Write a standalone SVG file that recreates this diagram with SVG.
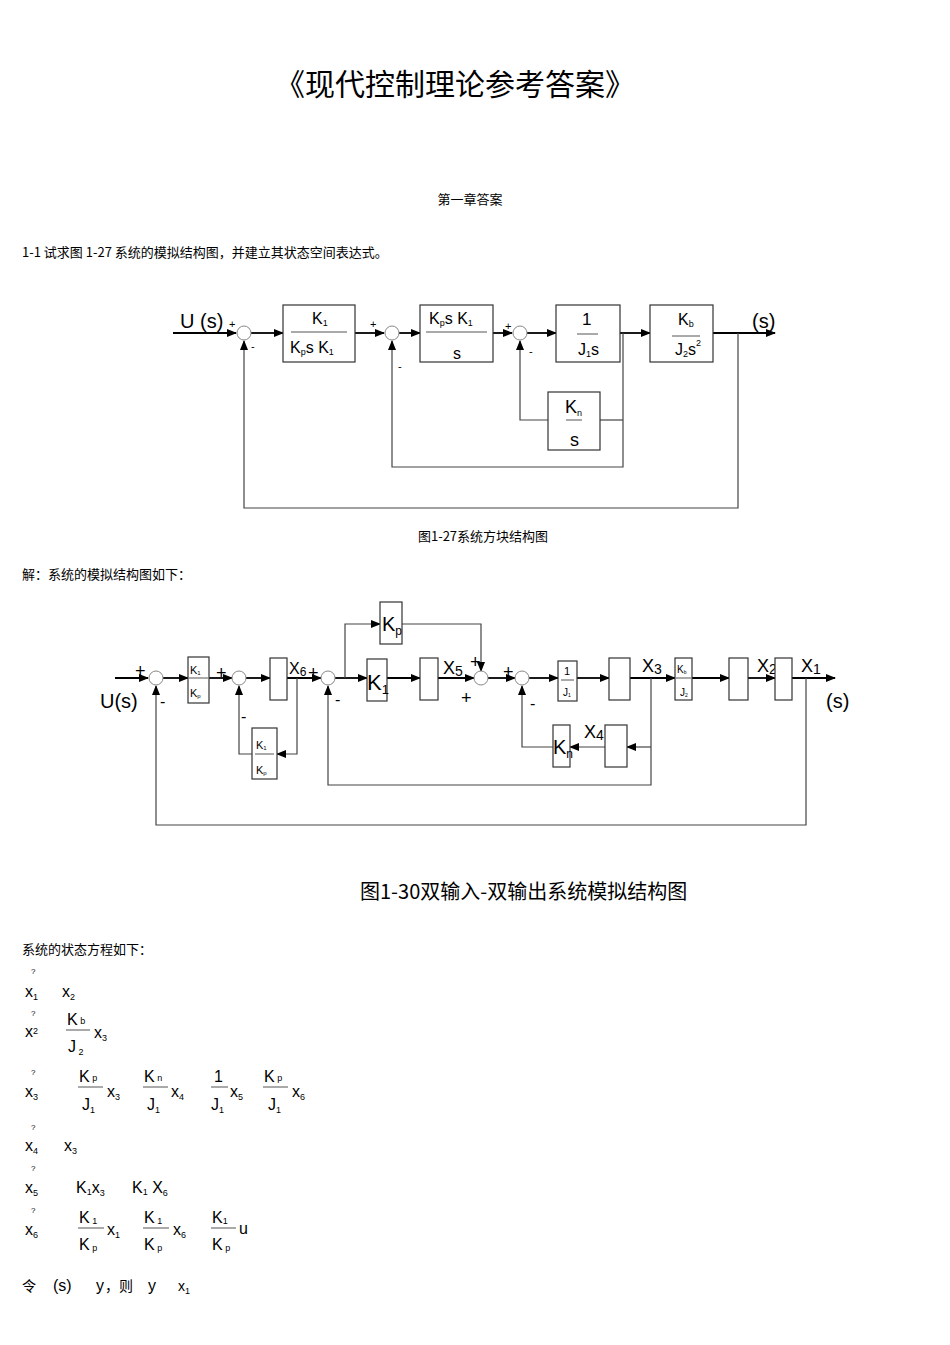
<svg xmlns="http://www.w3.org/2000/svg" width="950" height="1345" viewBox="0 0 950 1345">
<defs>
<marker id="a" markerWidth="10" markerHeight="8" refX="9" refY="4" orient="auto" markerUnits="userSpaceOnUse"><path d="M0,0 L10,4 L0,8 Z" fill="#000"/></marker>
<style>
text{font-family:"Liberation Sans","Noto Sans CJK SC",sans-serif;fill:#000}
.cjk{font-family:"Noto Sans CJK SC","Liberation Sans",sans-serif}
.b{fill:#fff;stroke:#333;stroke-width:1.2}
.s{fill:#fff;stroke:#888;stroke-width:1}
.l{fill:none;stroke:#000;stroke-width:1.8}
.g{fill:none;stroke:#444;stroke-width:1.2}
.f{stroke:#555;stroke-width:1}
.sub{font-size:9px}
</style>
</defs>
<rect width="950" height="1345" fill="#fff"/>
<text class="cjk" x="455" y="95" font-size="30" text-anchor="middle">《现代控制理论参考答案》</text>
<text class="cjk" x="470" y="204" font-size="13" text-anchor="middle">第一章答案</text>
<text class="cjk" x="22" y="257" font-size="13">1-1  试求图  1-27 系统的模拟结构图，并建立其状态空间表达式。</text>

<!-- Diagram 1 -->
<g id="connectors1">
<path class="l" d="M173,333 H236" marker-end="url(#a)"/>
<path class="l" d="M251,333 H283" marker-end="url(#a)"/>
<path class="l" d="M355,333 H384" marker-end="url(#a)"/>
<path class="l" d="M399,333 H420" marker-end="url(#a)"/>
<path class="l" d="M493,333 H512" marker-end="url(#a)"/>
<path class="l" d="M527,333 H556" marker-end="url(#a)"/>
<path class="l" d="M620,333 H650" marker-end="url(#a)"/>
<path class="l" d="M713,333 H775" marker-end="url(#a)"/>
<path class="g" d="M623,333 V467 H392 V341" marker-end="url(#a)"/>
<path class="g" d="M623,420 H600"/>
<path class="g" d="M548,420 H520 V341" marker-end="url(#a)"/>
<path class="g" d="M738,333 V508 H244 V341" marker-end="url(#a)"/>
</g>
<g id="sum1a"><circle class="s" cx="244" cy="333" r="7"/><text x="229" y="328" font-size="11">+</text><text x="251" y="350" font-size="11">-</text></g>
<g id="sum2a"><circle class="s" cx="392" cy="333" r="7"/><text x="370" y="328" font-size="11">+</text><text x="398" y="370" font-size="11">-</text></g>
<g id="sum3a"><circle class="s" cx="520" cy="333" r="7"/><text x="505" y="330" font-size="11">+</text><text x="529" y="355" font-size="11">-</text></g>
<text x="180" y="328" font-size="20">U (s)</text>
<text x="752" y="328" font-size="20">(s)</text>
<g id="blk1"><rect class="b" x="283" y="305" width="72" height="57"/><line class="f" x1="291" y1="332" x2="347" y2="332"/><text x="312" y="324" font-size="16">K<tspan class="sub" dy="2">1</tspan></text><text x="290" y="353" font-size="16">K<tspan class="sub" dy="2">p</tspan><tspan dy="-2">s  K</tspan><tspan class="sub" dy="2">1</tspan></text></g>
<g id="blk2"><rect class="b" x="420" y="305" width="73" height="57"/><line class="f" x1="426" y1="332" x2="487" y2="332"/><text x="429" y="324" font-size="16">K<tspan class="sub" dy="2">p</tspan><tspan dy="-2">s  K</tspan><tspan class="sub" dy="2">1</tspan></text><text x="453" y="359" font-size="16">s</text></g>
<g id="blk3"><rect class="b" x="556" y="305" width="64" height="57"/><line class="f" x1="577" y1="334" x2="598" y2="334"/><text x="582" y="325" font-size="17">1</text><text x="578" y="355" font-size="16">J<tspan class="sub" dy="2">1</tspan><tspan dy="-2">s</tspan></text></g>
<g id="blk4"><rect class="b" x="650" y="305" width="63" height="57"/><line class="f" x1="672" y1="336" x2="700" y2="336"/><text x="678" y="325" font-size="16">K<tspan class="sub" dy="2">b</tspan></text><text x="675" y="355" font-size="16">J<tspan class="sub" dy="2">2</tspan><tspan dy="-2">s</tspan><tspan class="sub" dy="-9">2</tspan></text></g>
<g id="blk5"><rect class="b" x="548" y="392" width="52" height="58"/><line class="f" x1="566" y1="420" x2="582" y2="420"/><text x="565" y="413" font-size="18">K<tspan class="sub" dy="3">n</tspan></text><text x="570" y="446" font-size="18">s</text></g>
<text class="cjk" x="483" y="541" font-size="13" text-anchor="middle">图1-27系统方块结构图</text>

<text class="cjk" x="22" y="579" font-size="13">解：系统的模拟结构图如下：</text>

<!-- Diagram 2 -->
<g id="connectors2">
<path class="l" d="M115,678 H148" marker-end="url(#a)"/>
<path class="l" d="M163,678 H188" marker-end="url(#a)"/>
<path class="l" d="M209,678 H232" marker-end="url(#a)"/>
<path class="l" d="M246,678 H270" marker-end="url(#a)"/>
<path class="l" d="M287,678 H321" marker-end="url(#a)"/>
<path class="l" d="M335,678 H367" marker-end="url(#a)"/>
<path class="l" d="M387,678 H420" marker-end="url(#a)"/>
<path class="l" d="M438,678 H474" marker-end="url(#a)"/>
<path class="l" d="M488,678 H515" marker-end="url(#a)"/>
<path class="l" d="M529,678 H558" marker-end="url(#a)"/>
<path class="l" d="M577,678 H609" marker-end="url(#a)"/>
<path class="l" d="M630,678 H675" marker-end="url(#a)"/>
<path class="l" d="M692,678 H729" marker-end="url(#a)"/>
<path class="l" d="M748,678 H775" marker-end="url(#a)"/>
<path class="l" d="M792,678 H835" marker-end="url(#a)"/>
<path class="g" d="M297,678 V754 H277" marker-end="url(#a)"/>
<path class="g" d="M252,754 H239 V686" marker-end="url(#a)"/>
<path class="g" d="M345,678 V624 H380" marker-end="url(#a)"/>
<path class="g" d="M402,624 H481 V671" marker-end="url(#a)"/>
<path class="g" d="M651,678 V785 H328 V686" marker-end="url(#a)"/>
<path class="g" d="M651,747 H627" marker-end="url(#a)"/>
<path class="g" d="M605,747 H570" marker-end="url(#a)"/>
<path class="g" d="M553,747 H522 V686" marker-end="url(#a)"/>
<path class="g" d="M806,678 V825 H156 V686" marker-end="url(#a)"/>
</g>
<g id="sum1b"><circle class="s" cx="156" cy="678" r="7"/><text x="135" y="677" font-size="18">+</text><text x="160" y="707" font-size="16">-</text></g>
<g id="sum2b"><circle class="s" cx="239" cy="678" r="7"/><text x="216" y="679" font-size="18">+</text><text x="241" y="722" font-size="16">-</text></g>
<g id="sum3b"><circle class="s" cx="328" cy="678" r="7"/><text x="308" y="679" font-size="18">+</text><text x="335" y="705" font-size="16">-</text></g>
<g id="sum4b"><circle class="s" cx="481" cy="678" r="7"/><text x="470" y="668" font-size="18">+</text><text x="461" y="704" font-size="18">+</text></g>
<g id="sum5b"><circle class="s" cx="522" cy="678" r="7"/><text x="503" y="678" font-size="18">+</text><text x="530" y="709" font-size="16">-</text></g>
<text x="100" y="708" font-size="20">U(s)</text>
<text x="826" y="708" font-size="20">(s)</text>
<g id="b_k1kp"><rect class="b" x="188" y="657" width="21" height="46"/><line class="f" x1="189" y1="678" x2="208" y2="678"/><text x="190" y="674" font-size="11">K<tspan font-size="6" dy="1">1</tspan></text><text x="190" y="697" font-size="11">K<tspan font-size="6" dy="1">p</tspan></text></g>
<g id="b_int6"><rect class="b" x="270" y="658" width="17" height="42"/></g>
<text x="289" y="674" font-size="16">X<tspan font-size="12" dy="2">6</tspan></text>
<g id="b_k1kp2"><rect class="b" x="252" y="728" width="25" height="51"/><line class="f" x1="255" y1="754" x2="274" y2="754"/><text x="256" y="749" font-size="11">K<tspan font-size="6" dy="1">1</tspan></text><text x="256" y="774" font-size="11">K<tspan font-size="6" dy="1">p</tspan></text></g>
<g id="b_kp"><rect class="b" x="380" y="602" width="22" height="42"/><text x="382" y="631" font-size="20">K<tspan font-size="12" dy="4">p</tspan></text></g>
<g id="b_k1"><rect class="b" x="367" y="659" width="20" height="42"/><text x="367" y="690" font-size="22">K<tspan font-size="13" dy="4">1</tspan></text></g>
<g id="b_int5"><rect class="b" x="420" y="658" width="18" height="42"/></g>
<text x="443" y="674" font-size="18">X<tspan font-size="14" dy="2">5</tspan></text>
<g id="b_1j1"><rect class="b" x="558" y="661" width="19" height="40"/><line class="f" x1="561" y1="680" x2="574" y2="680"/><text x="564" y="675" font-size="11">1</text><text x="563" y="696" font-size="10">J<tspan font-size="5" dy="1">1</tspan></text></g>
<g id="b_int3"><rect class="b" x="609" y="658" width="21" height="42"/></g>
<text x="642" y="672" font-size="18">X<tspan font-size="14" dy="2">3</tspan></text>
<g id="b_kbj2"><rect class="b" x="675" y="658" width="17" height="42"/><line class="f" x1="676" y1="678" x2="691" y2="678"/><text x="677" y="673" font-size="10">K<tspan font-size="5" dy="1">b</tspan></text><text x="680" y="696" font-size="10">J<tspan font-size="5" dy="1">2</tspan></text></g>
<g id="b_int2"><rect class="b" x="729" y="658" width="19" height="42"/></g>
<text x="757" y="672" font-size="18">X<tspan font-size="14" dy="2">2</tspan></text>
<g id="b_int1"><rect class="b" x="775" y="658" width="17" height="42"/></g>
<text x="801" y="672" font-size="18">X<tspan font-size="14" dy="2">1</tspan></text>
<g id="b_int4"><rect class="b" x="605" y="725" width="22" height="42"/></g>
<text x="584" y="738" font-size="18">X<tspan font-size="14" dy="2">4</tspan></text>
<g id="b_kn"><rect class="b" x="553" y="725" width="17" height="42"/><text x="553" y="754" font-size="20">K<tspan font-size="12" dy="4">n</tspan></text></g>
<text class="cjk" x="360" y="899" font-size="20">图1-30双输入-双输出系统模拟结构图</text>

<text class="cjk" x="22" y="954" font-size="13">系统的状态方程如下：</text>

<g id="equations" font-size="16">
<text x="31" y="974" font-size="8">?</text>
<text x="25" y="997">x<tspan font-size="9" dy="3">1</tspan></text>
<text x="62" y="997">x<tspan font-size="9" dy="3">2</tspan></text>
<text x="31" y="1016" font-size="8">?</text>
<text x="25" y="1037">x<tspan font-size="9" dy="-3">2</tspan></text>
<text x="67" y="1025">K<tspan font-size="9" dy="-1"> b</tspan></text>
<line class="f" x1="66" y1="1030" x2="90" y2="1030"/>
<text x="68" y="1052">J<tspan font-size="9" dy="3"> 2</tspan></text>
<text x="94" y="1038">x<tspan font-size="9" dy="3">3</tspan></text>
<text x="31" y="1075" font-size="8">?</text>
<text x="25" y="1097">x<tspan font-size="9" dy="3">3</tspan></text>
<text x="79" y="1082">K<tspan font-size="9" dy="-1"> p</tspan></text>
<line class="f" x1="78" y1="1087" x2="103" y2="1087"/>
<text x="82" y="1110">J<tspan font-size="9" dy="3">1</tspan></text>
<text x="107" y="1097">x<tspan font-size="9" dy="3">3</tspan></text>
<text x="144" y="1082">K<tspan font-size="9" dy="-1"> n</tspan></text>
<line class="f" x1="143" y1="1087" x2="168" y2="1087"/>
<text x="147" y="1110">J<tspan font-size="9" dy="3">1</tspan></text>
<text x="171" y="1097">x<tspan font-size="9" dy="3">4</tspan></text>
<text x="214" y="1082">1</text>
<line class="f" x1="211" y1="1087" x2="228" y2="1087"/>
<text x="211" y="1110">J<tspan font-size="9" dy="3">1</tspan></text>
<text x="230" y="1097">x<tspan font-size="9" dy="3">5</tspan></text>
<text x="264" y="1082">K<tspan font-size="9" dy="-1"> p</tspan></text>
<line class="f" x1="263" y1="1087" x2="288" y2="1087"/>
<text x="268" y="1110">J<tspan font-size="9" dy="3">1</tspan></text>
<text x="292" y="1097">x<tspan font-size="9" dy="3">6</tspan></text>
<text x="31" y="1130" font-size="8">?</text>
<text x="25" y="1151">x<tspan font-size="9" dy="3">4</tspan></text>
<text x="64" y="1151">x<tspan font-size="9" dy="3">3</tspan></text>
<text x="31" y="1171" font-size="8">?</text>
<text x="25" y="1193">x<tspan font-size="9" dy="3">5</tspan></text>
<text x="76" y="1193">K<tspan font-size="9" dy="2">1</tspan><tspan dy="-2">x</tspan><tspan font-size="9" dy="3">3</tspan></text>
<text x="132" y="1193">K<tspan font-size="9" dy="2">1</tspan><tspan dy="-2"> X</tspan><tspan font-size="9" dy="3">6</tspan></text>
<text x="31" y="1213" font-size="8">?</text>
<text x="25" y="1235">x<tspan font-size="9" dy="3">6</tspan></text>
<text x="79" y="1223">K<tspan font-size="9" dy="1"> 1</tspan></text>
<line class="f" x1="78" y1="1228" x2="104" y2="1228"/>
<text x="79" y="1250">K<tspan font-size="9" dy="1"> p</tspan></text>
<text x="107" y="1235">x<tspan font-size="9" dy="3">1</tspan></text>
<text x="144" y="1223">K<tspan font-size="9" dy="1"> 1</tspan></text>
<line class="f" x1="143" y1="1228" x2="169" y2="1228"/>
<text x="144" y="1250">K<tspan font-size="9" dy="1"> p</tspan></text>
<text x="173" y="1235">x<tspan font-size="9" dy="3">6</tspan></text>
<text x="212" y="1223">K<tspan font-size="9" dy="1">1</tspan></text>
<line class="f" x1="211" y1="1228" x2="236" y2="1228"/>
<text x="212" y="1250">K<tspan font-size="9" dy="1"> p</tspan></text>
<text x="239" y="1234">u</text>
<text class="cjk" x="22" y="1291" font-size="14">令</text>
<text x="53" y="1291">(s)</text>
<text x="96" y="1291">y</text>
<text class="cjk" x="105" y="1291" font-size="14">，则</text>
<text x="148" y="1291">y</text>
<text x="178" y="1291" font-size="14">x<tspan font-size="9" dy="3">1</tspan></text>
</g>
</svg>
